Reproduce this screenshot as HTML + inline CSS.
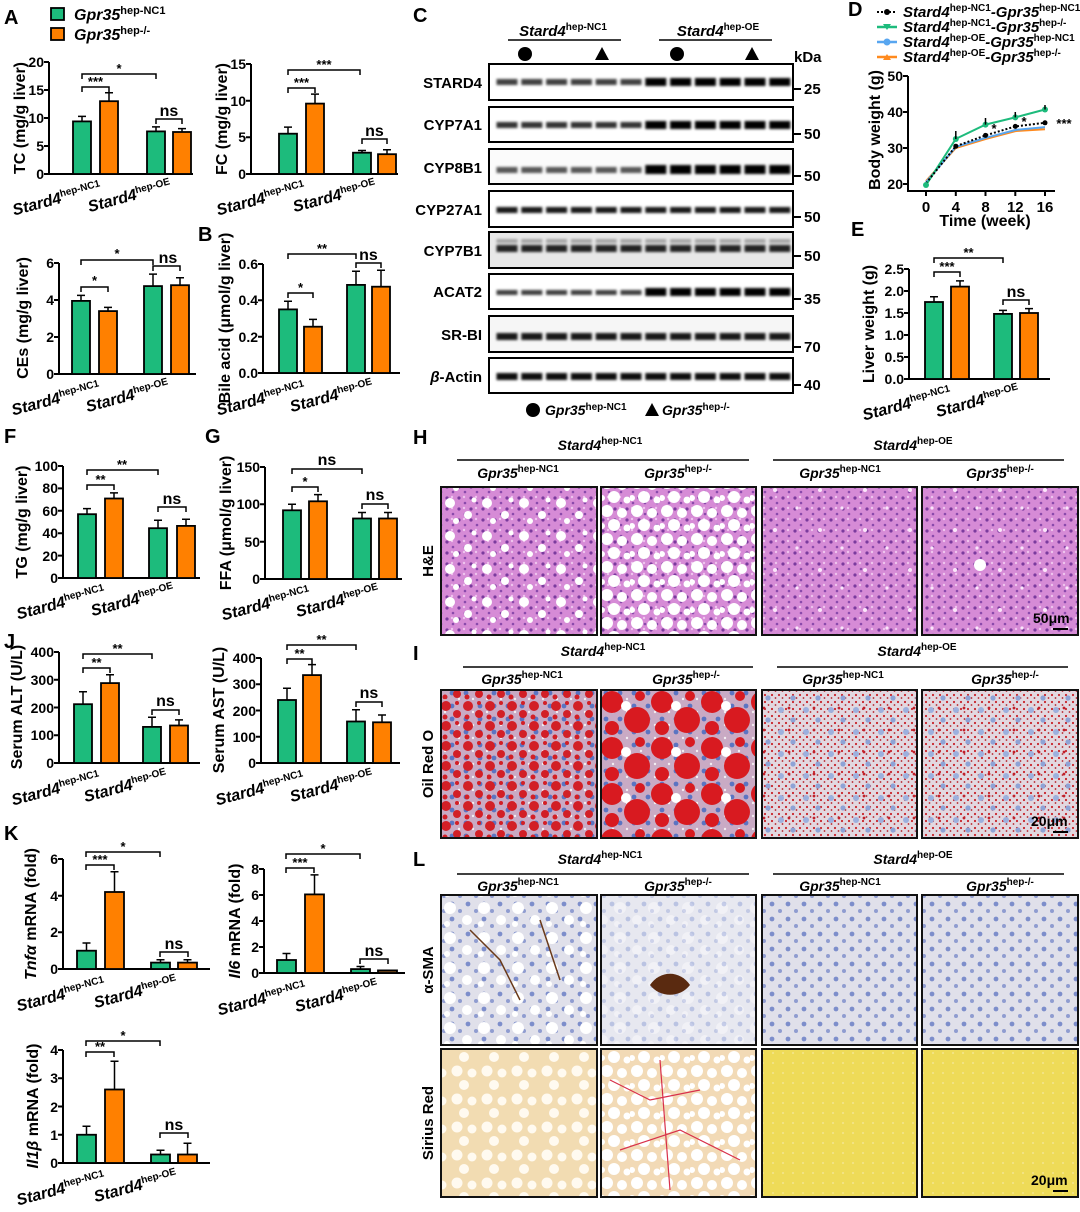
<!DOCTYPE html>
<html><head><meta charset="utf-8"><style>
html,body{margin:0;padding:0;background:#fff}
svg{display:block}
text{font-family:"Liberation Sans",Arial,sans-serif;font-weight:bold;fill:#000}
.tk{font-size:14px;text-anchor:end}
.yl{font-size:16px;text-anchor:middle}
.xl{font-size:16px;font-style:italic;text-anchor:end}
.st{font-size:13px;text-anchor:middle}
.ns{font-size:16px;text-anchor:middle}
.ax{fill:none;stroke:#000;stroke-width:2}
.br{fill:none;stroke:#000;stroke-width:1.5}
.g{fill:#1dbb7c;stroke:#000;stroke-width:1.8}
.o{fill:#ff8000;stroke:#000;stroke-width:1.8}
.pl{font-size:20px}
.hd{font-size:14px;font-style:italic;text-anchor:middle}
.img{fill:none;stroke:#111;stroke-width:2}
</style></head><body>
<svg width="1080" height="1212" viewBox="0 0 1080 1212" xmlns="http://www.w3.org/2000/svg">
<defs>
<pattern id="lane" x="495" y="0" width="24.8" height="1212" patternUnits="userSpaceOnUse"><rect x="1.5" y="0" width="21" height="1212" fill="#000"/></pattern>
<filter id="bl" x="-5%" y="-50%" width="110%" height="200%"><feGaussianBlur stdDeviation="1.3"/></filter>
<pattern id="heB" width="12" height="11" patternUnits="userSpaceOnUse"><rect width="12" height="11" fill="#d68bd6"/><circle cx="3" cy="3" r="1.6" fill="#7b3b9e"/><circle cx="9" cy="8" r="1.3" fill="#8a4aab"/><circle cx="8" cy="2" r="1.2" fill="#efc4ee"/></pattern>
<pattern id="heF1" width="37" height="33" patternUnits="userSpaceOnUse"><g fill="#fff"><circle cx="6" cy="8" r="5"/><circle cx="24" cy="20" r="4"/><circle cx="30" cy="5" r="2.5"/><circle cx="12" cy="26" r="3"/></g></pattern>
<pattern id="heF2" width="30" height="28" patternUnits="userSpaceOnUse"><g fill="#fff"><circle cx="7" cy="7" r="6"/><circle cx="22" cy="9" r="5"/><circle cx="14" cy="21" r="6"/><circle cx="27" cy="24" r="3.5"/><circle cx="2" cy="22" r="3"/></g></pattern>
<pattern id="heS" width="45" height="40" patternUnits="userSpaceOnUse"><g fill="#fbe6fb"><circle cx="10" cy="10" r="2"/><circle cx="32" cy="28" r="1.6"/></g></pattern>
<pattern id="orB" width="14" height="13" patternUnits="userSpaceOnUse"><rect width="14" height="13" fill="#c9aac4"/><circle cx="4" cy="4" r="2.4" fill="#5b74c2"/><circle cx="11" cy="10" r="1.2" fill="#f3eef2"/></pattern>
<pattern id="orR1" width="22" height="20" patternUnits="userSpaceOnUse"><g fill="#d21f26"><circle cx="6" cy="6" r="5"/><circle cx="17" cy="14" r="4"/><circle cx="17" cy="3" r="2"/><circle cx="5" cy="17" r="2.5"/></g></pattern>
<pattern id="orR2" width="50" height="46" patternUnits="userSpaceOnUse"><g fill="#d81a20"><circle cx="12" cy="12" r="11"/><circle cx="37" cy="30" r="13"/><circle cx="12" cy="38" r="7"/><circle cx="40" cy="6" r="5"/></g><circle cx="26" cy="16" r="5" fill="#fff"/></pattern>
<pattern id="orS" width="7" height="7" patternUnits="userSpaceOnUse"><rect width="7" height="7" fill="#e2d8e0"/><circle cx="2" cy="2" r="1.1" fill="#c9232a"/><circle cx="5.5" cy="5" r="0.9" fill="#b52028"/></pattern>
<pattern id="orN" width="25" height="22" patternUnits="userSpaceOnUse"><circle cx="6" cy="6" r="3" fill="#9cb0de"/><circle cx="18" cy="16" r="2.6" fill="#8ea3d6"/><circle cx="14" cy="4" r="1.4" fill="#c0202a"/></pattern>
<pattern id="saB" width="16" height="15" patternUnits="userSpaceOnUse"><rect width="16" height="15" fill="#e0e0ea"/><circle cx="4" cy="4" r="2.4" fill="#7d8ecb"/><circle cx="12" cy="11" r="2" fill="#8f9cd0"/></pattern>
<pattern id="saF" width="34" height="30" patternUnits="userSpaceOnUse"><g fill="#fff"><circle cx="8" cy="8" r="6"/><circle cx="25" cy="20" r="5"/><circle cx="5" cy="24" r="3"/></g></pattern>
<pattern id="siF" width="30" height="28" patternUnits="userSpaceOnUse"><g fill="#fffaf0"><circle cx="7" cy="7" r="5.5"/><circle cx="22" cy="9" r="4.5"/><circle cx="14" cy="21" r="5"/></g></pattern>
<pattern id="siY" width="10" height="10" patternUnits="userSpaceOnUse"><rect width="10" height="10" fill="#eedb58"/><circle cx="3" cy="3" r="1" fill="#f4e690"/></pattern>
</defs>

<!-- Panel letters -->
<text class="pl" x="4" y="24">A</text>
<text class="pl" x="198" y="241">B</text>
<text class="pl" x="413" y="22">C</text>
<text class="pl" x="848" y="16">D</text>
<text class="pl" x="851" y="236">E</text>
<text class="pl" x="4" y="443">F</text>
<text class="pl" x="205" y="443">G</text>
<text class="pl" x="413" y="444">H</text>
<text class="pl" x="413" y="660">I</text>
<text class="pl" x="4" y="648">J</text>
<text class="pl" x="4" y="840">K</text>
<text class="pl" x="413" y="866">L</text>

<!-- Legend A -->
<rect x="51" y="8" width="13" height="12" class="g"/>
<rect x="51" y="28" width="13" height="12" class="o"/>
<text x="74" y="20" style="font-size:16px;font-style:italic">Gpr35<tspan font-size="11" dy="-6" font-style="normal">hep-NC1</tspan></text>
<text x="74" y="40" style="font-size:16px;font-style:italic">Gpr35<tspan font-size="11" dy="-6" font-style="normal">hep-/-</tspan></text>

<!-- TC -->
<path class="ax" d="M49 62V174H193M44 62H49M44 90H49M44 118H49M44 146H49M44 174H49"/>
<text class="tk" x="44" y="67">20</text><text class="tk" x="44" y="95">15</text><text class="tk" x="44" y="123">10</text><text class="tk" x="44" y="151">5</text><text class="tk" x="44" y="179">0</text>
<rect class="g" x="73" y="121.4" width="18" height="52.6"/><rect class="o" x="100" y="101.2" width="18" height="72.8"/><rect class="g" x="147" y="131.4" width="18" height="42.6"/><rect class="o" x="173" y="132" width="18" height="42"/>
<path class="br" d="M82 121V116.4M78 116.4H86M109 101V92.8M105 92.8H113M156 131V126.9M152 126.9H160M182 132V128.6M178 128.6H186"/>
<path class="br" d="M82 92V87H109V92M82 79V74H156V79M156 124V119H182V124"/>
<text class="st" x="95.5" y="86">***</text><text class="st" x="119" y="73">*</text><text class="ns" x="169" y="116">ns</text>
<text class="xl" transform="translate(102,192) rotate(-15)">Stard4<tspan font-size="10" dy="-6" font-style="normal">hep-NC1</tspan></text>
<text class="xl" transform="translate(172,190) rotate(-15)">Stard4<tspan font-size="10" dy="-6" font-style="normal">hep-OE</tspan></text>
<text class="yl" transform="translate(25,118) rotate(-90)">TC (mg/g liver)</text>

<!-- FC -->
<path class="ax" d="M251 64V174H398M246 64H251M246 100.7H251M246 137.3H251M246 174H251"/>
<text class="tk" x="246" y="69">15</text><text class="tk" x="246" y="106">10</text><text class="tk" x="246" y="142">5</text><text class="tk" x="246" y="179">0</text>
<rect class="g" x="279" y="133.7" width="18" height="40.3"/><rect class="o" x="306" y="103.6" width="18" height="70.4"/><rect class="g" x="353" y="152.7" width="18" height="21.3"/><rect class="o" x="378" y="154.2" width="18" height="19.8"/>
<path class="br" d="M288 133V127.1M284 127.1H292M315 103V94.1M311 94.1H319M362 152V150.5M358 150.5H366M387 154V149.8M383 149.8H391"/>
<path class="br" d="M288 93V88H315V93M288 75V70H360V75M362 144V139H387V144"/>
<text class="st" x="301.5" y="87">***</text><text class="st" x="324" y="69">***</text><text class="ns" x="374.5" y="136">ns</text>
<text class="xl" transform="translate(306,192) rotate(-15)">Stard4<tspan font-size="10" dy="-6" font-style="normal">hep-NC1</tspan></text>
<text class="xl" transform="translate(377,190) rotate(-15)">Stard4<tspan font-size="10" dy="-6" font-style="normal">hep-OE</tspan></text>
<text class="yl" transform="translate(227,119) rotate(-90)">FC (mg/g liver)</text>

<!-- CEs -->
<path class="ax" d="M59 263V374H196M54 263H59M54 300H59M54 337H59M54 374H59"/>
<text class="tk" x="54" y="268">6</text><text class="tk" x="54" y="305">4</text><text class="tk" x="54" y="342">2</text><text class="tk" x="54" y="379">0</text>
<rect class="g" x="72" y="300.9" width="18" height="73.1"/><rect class="o" x="99" y="311.1" width="18" height="62.9"/><rect class="g" x="144" y="286.1" width="18" height="87.9"/><rect class="o" x="171" y="285.2" width="18" height="88.8"/>
<path class="br" d="M81 300V295.4M77 295.4H85M108 311V307.4M104 307.4H112M153 286V274.1M149 274.1H157M180 285V277.8M176 277.8H184"/>
<path class="br" d="M81 292V287H108V292M81 265V260H153V265M153 271V266H180V271"/>
<text class="st" x="94.5" y="285">*</text><text class="st" x="117" y="258">*</text><text class="ns" x="168" y="263">ns</text>
<text class="xl" transform="translate(101,392) rotate(-15)">Stard4<tspan font-size="10" dy="-6" font-style="normal">hep-NC1</tspan></text>
<text class="xl" transform="translate(170,390) rotate(-15)">Stard4<tspan font-size="10" dy="-6" font-style="normal">hep-OE</tspan></text>
<text class="yl" transform="translate(28,318) rotate(-90)">CEs (mg/g liver)</text>

<!-- Bile acid -->
<path class="ax" d="M263 264V373H400M258 264H263M258 300.3H263M258 336.7H263M258 373H263"/>
<text class="tk" x="258" y="269">0.6</text><text class="tk" x="258" y="305">0.4</text><text class="tk" x="258" y="342">0.2</text><text class="tk" x="258" y="378">0.0</text>
<rect class="g" x="279" y="309.4" width="18" height="63.6"/><rect class="o" x="304" y="326.7" width="18" height="46.3"/><rect class="g" x="347" y="284.9" width="18" height="88.1"/><rect class="o" x="372" y="286.7" width="18" height="86.3"/>
<path class="br" d="M288 309V301.2M284 301.2H292M313 326V319.4M309 319.4H317M356 284V271.3M352 271.3H360M381 286V270.3M377 270.3H385"/>
<path class="br" d="M288 298V293H313V298M288 259V254H356V259M356 268V263H381V268"/>
<text class="st" x="300.5" y="292">*</text><text class="st" x="322" y="253">**</text><text class="ns" x="368.5" y="260">ns</text>
<text class="xl" transform="translate(306,392) rotate(-15)">Stard4<tspan font-size="10" dy="-6" font-style="normal">hep-NC1</tspan></text>
<text class="xl" transform="translate(374,390) rotate(-15)">Stard4<tspan font-size="10" dy="-6" font-style="normal">hep-OE</tspan></text>
<text class="yl" transform="translate(230,318) rotate(-90)">Bile acid (μmol/g liver)</text>

<!-- TG -->
<path class="ax" d="M63 466V578H200M58 466H63M58 488.4H63M58 510.8H63M58 533.2H63M58 555.6H63M58 578H63"/>
<text class="tk" x="58" y="471">100</text><text class="tk" x="58" y="493">80</text><text class="tk" x="58" y="516">60</text><text class="tk" x="58" y="538">40</text><text class="tk" x="58" y="561">20</text><text class="tk" x="58" y="583">0</text>
<rect class="g" x="78" y="514.2" width="18" height="63.8"/><rect class="o" x="105" y="498.5" width="18" height="79.5"/><rect class="g" x="149" y="528.2" width="18" height="49.8"/><rect class="o" x="177" y="525.9" width="18" height="52.1"/>
<path class="br" d="M87 514V508.6M83 508.6H91M114 498V492.9M110 492.9H118M158 528V520.3M154 520.3H162M186 525V519.2M182 519.2H190"/>
<path class="br" d="M87 490V485H114V490M87 475V470H158V475M158 512V507H186V512"/>
<text class="st" x="100.5" y="484">**</text><text class="st" x="122" y="469">**</text><text class="ns" x="172" y="504">ns</text>
<text class="xl" transform="translate(106,596) rotate(-15)">Stard4<tspan font-size="10" dy="-6" font-style="normal">hep-NC1</tspan></text>
<text class="xl" transform="translate(175,594) rotate(-15)">Stard4<tspan font-size="10" dy="-6" font-style="normal">hep-OE</tspan></text>
<text class="yl" transform="translate(27,522) rotate(-90)">TG (mg/g liver)</text>

<!-- FFA -->
<path class="ax" d="M265 467V579H402M260 467H265M260 504.3H265M260 541.7H265M260 579H265"/>
<text class="tk" x="260" y="472">150</text><text class="tk" x="260" y="509">100</text><text class="tk" x="260" y="547">50</text><text class="tk" x="260" y="584">0</text>
<rect class="g" x="283" y="510.3" width="18" height="68.7"/><rect class="o" x="309" y="501.3" width="18" height="77.7"/><rect class="g" x="353" y="518.5" width="18" height="60.5"/><rect class="o" x="379" y="518.5" width="18" height="60.5"/>
<path class="br" d="M292 510V504.3M288 504.3H296M318 501V494.6M314 494.6H322M362 518V512.5M358 512.5H366M388 518V512.5M384 512.5H392"/>
<path class="br" d="M292 492V487H318V492M292 474V469H362V474M362 509V504H388V509"/>
<text class="st" x="305" y="486">*</text><text class="ns" x="327" y="465">ns</text><text class="ns" x="375" y="500">ns</text>
<text class="xl" transform="translate(311,597) rotate(-15)">Stard4<tspan font-size="10" dy="-6" font-style="normal">hep-NC1</tspan></text>
<text class="xl" transform="translate(380,595) rotate(-15)">Stard4<tspan font-size="10" dy="-6" font-style="normal">hep-OE</tspan></text>
<text class="yl" transform="translate(231,523) rotate(-90)">FFA (μmol/g liver)</text>

<!-- ALT -->
<path class="ax" d="M59 652V763H200M54 652H59M54 679.75H59M54 707.5H59M54 735.25H59M54 763H59"/>
<text class="tk" x="54" y="657">400</text><text class="tk" x="54" y="685">300</text><text class="tk" x="54" y="713">200</text><text class="tk" x="54" y="740">100</text><text class="tk" x="54" y="768">0</text>
<rect class="g" x="74" y="704.2" width="18" height="58.8"/><rect class="o" x="101" y="683.1" width="18" height="79.9"/><rect class="g" x="143" y="726.9" width="18" height="36.1"/><rect class="o" x="170" y="725.5" width="18" height="37.5"/>
<path class="br" d="M83 704V691.7M79 691.7H87M110 683V674.8M106 674.8H114M152 726V717.2M148 717.2H156M179 725V719.9M175 719.9H183"/>
<path class="br" d="M83 673V668H110V673M83 659V654H152V659M152 715V710H179V715"/>
<text class="st" x="96.5" y="667">**</text><text class="st" x="117.5" y="653">**</text><text class="ns" x="165.5" y="706">ns</text>
<text class="xl" transform="translate(101,782) rotate(-15)">Stard4<tspan font-size="10" dy="-6" font-style="normal">hep-NC1</tspan></text>
<text class="xl" transform="translate(168,780) rotate(-15)">Stard4<tspan font-size="10" dy="-6" font-style="normal">hep-OE</tspan></text>
<text class="yl" transform="translate(22,707) rotate(-90)">Serum ALT (U/L)</text>

<!-- AST -->
<path class="ax" d="M261 658V763H400M256 658H261M256 684.25H261M256 710.5H261M256 736.75H261M256 763H261"/>
<text class="tk" x="256" y="663">400</text><text class="tk" x="256" y="689">300</text><text class="tk" x="256" y="716">200</text><text class="tk" x="256" y="742">100</text><text class="tk" x="256" y="768">0</text>
<rect class="g" x="278" y="700" width="18" height="63"/><rect class="o" x="303" y="675.1" width="18" height="87.9"/><rect class="g" x="347" y="721.5" width="18" height="41.5"/><rect class="o" x="373" y="722.3" width="18" height="40.7"/>
<path class="br" d="M287 700V688.2M283 688.2H291M312 675V664.6M308 664.6H316M356 721V709.7M352 709.7H360M382 722V715M378 715H386"/>
<path class="br" d="M287 664V659H312V664M287 650V645H356V650M356 707V702H382V707"/>
<text class="st" x="299.5" y="658">**</text><text class="st" x="321.5" y="644">**</text><text class="ns" x="369" y="698">ns</text>
<text class="xl" transform="translate(305,782) rotate(-15)">Stard4<tspan font-size="10" dy="-6" font-style="normal">hep-NC1</tspan></text>
<text class="xl" transform="translate(374,780) rotate(-15)">Stard4<tspan font-size="10" dy="-6" font-style="normal">hep-OE</tspan></text>
<text class="yl" transform="translate(224,710) rotate(-90)">Serum AST (U/L)</text>

<!-- Tnfa -->
<path class="ax" d="M63 859V969H210M58 859H63M58 895.7H63M58 932.3H63M58 969H63"/>
<text class="tk" x="58" y="864">6</text><text class="tk" x="58" y="901">4</text><text class="tk" x="58" y="937">2</text><text class="tk" x="58" y="974">0</text>
<rect class="g" x="77" y="950.7" width="19" height="18.3"/><rect class="o" x="105" y="892" width="19" height="77"/><rect class="g" x="151" y="962.6" width="19" height="6.4"/><rect class="o" x="178" y="962.6" width="19" height="6.4"/>
<path class="br" d="M86.5 950V943M82.5 943H90.5M114.5 892V871.8M110.5 871.8H118.5M160.5 962V959.8M156.5 959.8H164.5M187.5 962V959.8M183.5 959.8H191.5"/>
<path class="br" d="M86 870V865H114V870M86 857V852H160V857M160 957V952H188V957"/>
<text class="st" x="100" y="864">***</text><text class="st" x="123" y="851">*</text><text class="ns" x="174" y="949">ns</text>
<text class="xl" transform="translate(106,988) rotate(-15)">Stard4<tspan font-size="10" dy="-6" font-style="normal">hep-NC1</tspan></text>
<text class="xl" transform="translate(178,986) rotate(-15)">Stard4<tspan font-size="10" dy="-6" font-style="normal">hep-OE</tspan></text>
<text class="yl" transform="translate(36,914) rotate(-90)"><tspan font-style="italic">Tnfα</tspan> mRNA (fold)</text>

<!-- Il6 -->
<path class="ax" d="M264 869V973H405M259 869H264M259 895H264M259 921H264M259 947H264M259 973H264"/>
<text class="tk" x="259" y="874">8</text><text class="tk" x="259" y="900">6</text><text class="tk" x="259" y="926">4</text><text class="tk" x="259" y="952">2</text><text class="tk" x="259" y="978">0</text>
<rect class="g" x="277" y="960" width="19" height="13"/><rect class="o" x="305" y="894.4" width="19" height="78.6"/><rect class="g" x="351" y="969.1" width="19" height="3.9"/><rect class="o" x="378" y="970.4" width="19" height="2.6" style="fill:#8a5520"/>
<path class="br" d="M286.5 960V953.5M282.5 953.5H290.5M314.5 894V874.9M310.5 874.9H318.5M360.5 969V966.5M356.5 966.5H364.5"/>
<path class="br" d="M286 873V868H314V873M286 859V854H360V859M360 964V959H388V964"/>
<text class="st" x="300" y="867">***</text><text class="st" x="323" y="853">*</text><text class="ns" x="374" y="956">ns</text>
<text class="xl" transform="translate(307,992) rotate(-15)">Stard4<tspan font-size="10" dy="-6" font-style="normal">hep-NC1</tspan></text>
<text class="xl" transform="translate(379,990) rotate(-15)">Stard4<tspan font-size="10" dy="-6" font-style="normal">hep-OE</tspan></text>
<text class="yl" transform="translate(240,921) rotate(-90)"><tspan font-style="italic">Il6</tspan> mRNA (fold)</text>

<!-- Il1b -->
<path class="ax" d="M63 1050V1163H210M58 1050H63M58 1078.25H63M58 1106.5H63M58 1134.75H63M58 1163H63"/>
<text class="tk" x="58" y="1055">4</text><text class="tk" x="58" y="1083">3</text><text class="tk" x="58" y="1112">2</text><text class="tk" x="58" y="1140">1</text><text class="tk" x="58" y="1168">0</text>
<rect class="g" x="77" y="1134.75" width="19" height="28.25"/><rect class="o" x="105" y="1089.5" width="19" height="73.5"/><rect class="g" x="151" y="1154.5" width="19" height="8.5"/><rect class="o" x="178" y="1154.5" width="19" height="8.5"/>
<path class="br" d="M86.5 1134V1126.3M82.5 1126.3H90.5M114.5 1089V1061.3M110.5 1061.3H118.5M160.5 1154V1150.3M156.5 1150.3H164.5M187.5 1154V1143.2M183.5 1143.2H191.5"/>
<path class="br" d="M86 1057V1052H114V1057M86 1046V1041H160V1046M160 1138V1133H188V1138"/>
<text class="st" x="100" y="1051">**</text><text class="st" x="123" y="1040">*</text><text class="ns" x="174" y="1130">ns</text>
<text class="xl" transform="translate(106,1182) rotate(-15)">Stard4<tspan font-size="10" dy="-6" font-style="normal">hep-NC1</tspan></text>
<text class="xl" transform="translate(178,1180) rotate(-15)">Stard4<tspan font-size="10" dy="-6" font-style="normal">hep-OE</tspan></text>
<text class="yl" transform="translate(38,1106) rotate(-90)"><tspan font-style="italic">Il1β</tspan> mRNA (fold)</text>

<!-- E Liver weight -->
<path class="ax" d="M909 269V379H1050M904 269H909M904 291H909M904 313H909M904 335H909M904 357H909M904 379H909"/>
<text class="tk" x="904" y="274">2.5</text><text class="tk" x="904" y="296">2.0</text><text class="tk" x="904" y="318">1.5</text><text class="tk" x="904" y="340">1.0</text><text class="tk" x="904" y="362">0.5</text><text class="tk" x="904" y="384">0.0</text>
<rect class="g" x="925" y="302" width="18" height="77"/><rect class="o" x="951" y="286.6" width="18" height="92.4"/><rect class="g" x="994" y="313.9" width="18" height="65.1"/><rect class="o" x="1020" y="313" width="18" height="66"/>
<path class="br" d="M934 302V296.7M930 296.7H938M960 286V280.9M956 280.9H964M1003 313V310.4M999 310.4H1007M1029 313V308.6M1025 308.6H1033"/>
<path class="br" d="M934 277V272H960V277M934 263V258H1003V263M1003 305V300H1029V305"/>
<text class="st" x="947" y="271">***</text><text class="st" x="968.5" y="257">**</text><text class="ns" x="1016" y="297">ns</text>
<text class="xl" transform="translate(952,397) rotate(-15)">Stard4<tspan font-size="10" dy="-6" font-style="normal">hep-NC1</tspan></text>
<text class="xl" transform="translate(1020,395) rotate(-15)">Stard4<tspan font-size="10" dy="-6" font-style="normal">hep-OE</tspan></text>
<text class="yl" transform="translate(874,324) rotate(-90)">Liver weight (g)</text>

<!-- D line chart -->
<g style="font-size:14px;font-style:italic">
<path d="M877 12H897" stroke="#000" stroke-width="2" stroke-dasharray="2 2"/><circle cx="887" cy="12" r="3"/>
<text x="903" y="17" style="font-size:15px">Stard4<tspan font-size="10" dy="-6" font-style="normal">hep-NC1</tspan><tspan dy="6">-Gpr35</tspan><tspan font-size="10" dy="-6" font-style="normal">hep-NC1</tspan></text>
<path d="M877 27H897" stroke="#1dbb7c" stroke-width="2.5"/><path d="M883 24H891L887 30Z" fill="#1dbb7c"/>
<text x="903" y="32" style="font-size:15px">Stard4<tspan font-size="10" dy="-6" font-style="normal">hep-NC1</tspan><tspan dy="6">-Gpr35</tspan><tspan font-size="10" dy="-6" font-style="normal">hep-/-</tspan></text>
<path d="M877 42H897" stroke="#58a6f0" stroke-width="2.5"/><circle cx="887" cy="42" r="3.5" fill="#58a6f0"/>
<text x="903" y="47" style="font-size:15px">Stard4<tspan font-size="10" dy="-6" font-style="normal">hep-OE</tspan><tspan dy="6">-Gpr35</tspan><tspan font-size="10" dy="-6" font-style="normal">hep-NC1</tspan></text>
<path d="M877 57H897" stroke="#ff8a1e" stroke-width="2.5"/><path d="M883 60H891L887 54Z" fill="#ff8a1e"/>
<text x="903" y="62" style="font-size:15px">Stard4<tspan font-size="10" dy="-6" font-style="normal">hep-OE</tspan><tspan dy="6">-Gpr35</tspan><tspan font-size="10" dy="-6" font-style="normal">hep-/-</tspan></text>
</g>
<path class="ax" d="M908 76V191H1055M903 76H908M903 112H908M903 148H908M903 184H908M926 191V196M955.8 191V196M985.5 191V196M1015.3 191V196M1045 191V196"/>
<text class="tk" x="903" y="81">50</text><text class="tk" x="903" y="117">40</text><text class="tk" x="903" y="153">30</text><text class="tk" x="903" y="189">20</text>
<g style="font-size:15px;text-anchor:middle"><text x="926" y="212">0</text><text x="955.8" y="212">4</text><text x="985.5" y="212">8</text><text x="1015.3" y="212">12</text><text x="1045" y="212">16</text></g>
<text class="yl" x="985" y="226">Time (week)</text>
<text class="yl" transform="translate(880,130) rotate(-90)">Body weight (g)</text>
<polyline points="926,181.1 955.8,148 985.5,139 1015.3,131.1 1045,129.3" fill="none" stroke="#ff8a1e" stroke-width="2"/>
<polyline points="926,182.2 955.8,146.9 985.5,137.9 1015.3,130 1045,127.1" fill="none" stroke="#58a6f0" stroke-width="2"/>
<polyline points="926,185.1 955.8,138.9 985.5,124.6 1015.3,117.4 1045,109.5" fill="none" stroke="#1dbb7c" stroke-width="2"/>
<polyline points="926,183.3 955.8,146.2 985.5,135.4 1015.3,126.4 1045,122.8" fill="none" stroke="#000" stroke-width="2" stroke-dasharray="2 2"/>
<g fill="#1dbb7c"><circle cx="926" cy="185" r="3"/><circle cx="955.8" cy="139" r="3"/><circle cx="985.5" cy="124.6" r="3"/><circle cx="1015.3" cy="117.4" r="3"/><circle cx="1045" cy="109.5" r="3"/></g>
<g fill="#000"><circle cx="955.8" cy="146.2" r="2.5"/><circle cx="985.5" cy="135.4" r="2.5"/><circle cx="1015.3" cy="126.4" r="2.5"/><circle cx="1045" cy="122.8" r="2.5"/></g>
<path class="br" d="M955.8 139V131M985.5 124.6V118M1015.3 117.4V112M1045 109.5V105"/>
<text class="st" x="994" y="133">*</text><text class="st" x="1024" y="126">*</text><text class="st" x="1064" y="128">***</text>

<!-- C Western blot -->
<text class="hd" x="563" y="36" style="font-size:15px">Stard4<tspan font-size="10" dy="-6" font-style="normal">hep-NC1</tspan></text>
<text class="hd" x="718" y="36" style="font-size:15px">Stard4<tspan font-size="10" dy="-6" font-style="normal">hep-OE</tspan></text>
<path d="M508 40H621M659 40H772" stroke="#000" stroke-width="1.5"/>
<circle cx="525" cy="54" r="7"/><path d="M602 47L609 60H595Z"/><circle cx="677" cy="54" r="7"/><path d="M752 47L759 60H745Z"/>
<text x="794" y="62" style="font-size:15px">kDa</text>
<g>
<rect x="489" y="64" width="304" height="36" fill="#fff"/>
<rect x="489" y="107" width="304" height="35" fill="#fff"/>
<rect x="489" y="149" width="304" height="35" fill="#fbfbfb"/>
<rect x="489" y="191" width="304" height="36" fill="#fff"/>
<rect x="489" y="232" width="304" height="36" fill="#e8e8e8"/>
<rect x="489" y="274" width="304" height="35" fill="#fff"/>
<rect x="489" y="316" width="304" height="36" fill="#f6f6f6"/>
<rect x="489" y="358" width="304" height="35" fill="#fff"/>
<g filter="url(#bl)" fill="url(#lane)">
<rect x="495" y="79" width="149" height="6" opacity="0.75"/><rect x="644" y="78" width="149" height="8"/>
<rect x="495" y="122" width="149" height="6" opacity="0.8"/><rect x="644" y="121" width="149" height="8"/>
<rect x="495" y="167" width="149" height="6" opacity="0.65"/><rect x="644" y="165" width="149" height="9"/>
<rect x="495" y="207" width="298" height="6" opacity="0.9"/>
<rect x="495" y="245" width="298" height="7" opacity="0.85"/>
<rect x="495" y="239" width="298" height="4" opacity="0.3"/>
<rect x="495" y="290" width="149" height="5" opacity="0.75"/><rect x="644" y="288" width="149" height="8"/>
<rect x="495" y="333" width="298" height="7" opacity="0.9"/>
<rect x="495" y="373" width="298" height="7" opacity="0.95"/>
</g>
<g fill="none" stroke="#000" stroke-width="2">
<rect x="489" y="64" width="304" height="36"/><rect x="489" y="107" width="304" height="35"/><rect x="489" y="149" width="304" height="35"/><rect x="489" y="191" width="304" height="36"/><rect x="489" y="232" width="304" height="36"/><rect x="489" y="274" width="304" height="35"/><rect x="489" y="316" width="304" height="36"/><rect x="489" y="358" width="304" height="35"/>
<path d="M793 89H801M793 134H801M793 176H801M793 217H801M793 256H801M793 299H801M793 347H801M793 385H801"/>
</g>
</g>
<g style="font-size:15px;text-anchor:end">
<text x="482" y="88">STARD4</text><text x="482" y="130">CYP7A1</text><text x="482" y="173">CYP8B1</text><text x="482" y="215">CYP27A1</text><text x="482" y="256">CYP7B1</text><text x="482" y="297">ACAT2</text><text x="482" y="340">SR-BI</text><text x="482" y="382"><tspan font-style="italic">β</tspan>-Actin</text>
</g>
<g style="font-size:15px"><text x="804" y="94">25</text><text x="804" y="139">50</text><text x="804" y="181">50</text><text x="804" y="222">50</text><text x="804" y="261">50</text><text x="804" y="304">35</text><text x="804" y="352">70</text><text x="804" y="390">40</text></g>
<circle cx="533" cy="410" r="7"/>
<text x="545" y="415" style="font-size:14px;font-style:italic">Gpr35<tspan font-size="10" dy="-5" font-style="normal">hep-NC1</tspan></text>
<path d="M652 403L659 416H645Z"/>
<text x="662" y="415" style="font-size:14px;font-style:italic">Gpr35<tspan font-size="10" dy="-5" font-style="normal">hep-/-</tspan></text>

<!-- H headers -->
<g>
<text class="hd" x="600" y="450">Stard4<tspan font-size="10" dy="-6" font-style="normal">hep-NC1</tspan></text>
<text class="hd" x="913" y="450">Stard4<tspan font-size="10" dy="-6" font-style="normal">hep-OE</tspan></text>
<path d="M457 460H749M773 460H1064" stroke="#000" stroke-width="1.5"/>
<text class="hd" x="518" y="478">Gpr35<tspan font-size="10" dy="-6" font-style="normal">hep-NC1</tspan></text>
<text class="hd" x="678" y="478">Gpr35<tspan font-size="10" dy="-6" font-style="normal">hep-/-</tspan></text>
<text class="hd" x="840" y="478">Gpr35<tspan font-size="10" dy="-6" font-style="normal">hep-NC1</tspan></text>
<text class="hd" x="1000" y="478">Gpr35<tspan font-size="10" dy="-6" font-style="normal">hep-/-</tspan></text>
</g>
<rect x="441" y="487" width="156" height="148" fill="url(#heB)"/><rect x="441" y="487" width="156" height="148" fill="url(#heF1)"/>
<rect x="601" y="487" width="155" height="148" fill="url(#heB)"/><rect x="601" y="487" width="155" height="148" fill="url(#heF2)"/>
<rect x="762" y="487" width="155" height="148" fill="url(#heB)"/><rect x="762" y="487" width="155" height="148" fill="url(#heS)"/>
<rect x="922" y="487" width="156" height="148" fill="url(#heB)"/><rect x="922" y="487" width="156" height="148" fill="url(#heS)"/><circle cx="980" cy="565" r="6" fill="#fff"/>
<g class="img"><rect x="441" y="487" width="156" height="148"/><rect x="601" y="487" width="155" height="148"/><rect x="762" y="487" width="155" height="148"/><rect x="922" y="487" width="156" height="148"/></g>
<text x="1033" y="623" style="font-size:14px">50μm</text><path d="M1053 629H1068" stroke="#000" stroke-width="2"/>
<text class="yl" transform="translate(433,561) rotate(-90)" style="font-size:15px">H&amp;E</text>

<!-- I headers -->
<text class="hd" x="603" y="656">Stard4<tspan font-size="10" dy="-6" font-style="normal">hep-NC1</tspan></text>
<text class="hd" x="917" y="656">Stard4<tspan font-size="10" dy="-6" font-style="normal">hep-OE</tspan></text>
<path d="M463 667H753M777 667H1068" stroke="#000" stroke-width="1.5"/>
<text class="hd" x="522" y="684">Gpr35<tspan font-size="10" dy="-6" font-style="normal">hep-NC1</tspan></text>
<text class="hd" x="686" y="684">Gpr35<tspan font-size="10" dy="-6" font-style="normal">hep-/-</tspan></text>
<text class="hd" x="843" y="684">Gpr35<tspan font-size="10" dy="-6" font-style="normal">hep-NC1</tspan></text>
<text class="hd" x="1005" y="684">Gpr35<tspan font-size="10" dy="-6" font-style="normal">hep-/-</tspan></text>
<rect x="441" y="690" width="156" height="148" fill="url(#orB)"/><rect x="441" y="690" width="156" height="148" fill="url(#orR1)"/>
<rect x="601" y="690" width="155" height="148" fill="url(#orB)"/><rect x="601" y="690" width="155" height="148" fill="url(#orR2)"/>
<rect x="762" y="690" width="155" height="148" fill="url(#orS)"/><rect x="762" y="690" width="155" height="148" fill="url(#orN)"/>
<rect x="922" y="690" width="156" height="148" fill="url(#orS)"/><rect x="922" y="690" width="156" height="148" fill="url(#orN)"/>
<g class="img"><rect x="441" y="690" width="156" height="148"/><rect x="601" y="690" width="155" height="148"/><rect x="762" y="690" width="155" height="148"/><rect x="922" y="690" width="156" height="148"/></g>
<text x="1031" y="826" style="font-size:14px">20μm</text><path d="M1053 832H1068" stroke="#000" stroke-width="2"/>
<text class="yl" transform="translate(433,764) rotate(-90)" style="font-size:15px">Oil Red O</text>

<!-- L headers -->
<text class="hd" x="600" y="864">Stard4<tspan font-size="10" dy="-6" font-style="normal">hep-NC1</tspan></text>
<text class="hd" x="913" y="864">Stard4<tspan font-size="10" dy="-6" font-style="normal">hep-OE</tspan></text>
<path d="M457 874H749M773 874H1064" stroke="#000" stroke-width="1.5"/>
<text class="hd" x="518" y="891">Gpr35<tspan font-size="10" dy="-6" font-style="normal">hep-NC1</tspan></text>
<text class="hd" x="678" y="891">Gpr35<tspan font-size="10" dy="-6" font-style="normal">hep-/-</tspan></text>
<text class="hd" x="840" y="891">Gpr35<tspan font-size="10" dy="-6" font-style="normal">hep-NC1</tspan></text>
<text class="hd" x="1000" y="891">Gpr35<tspan font-size="10" dy="-6" font-style="normal">hep-/-</tspan></text>
<rect x="441" y="895" width="156" height="150" fill="url(#saB)"/><rect x="441" y="895" width="156" height="150" fill="url(#saF)"/>
<path d="M470 930L500 960L520 1000M540 920L560 980" stroke="#6a3a1a" stroke-width="1.5" fill="none"/>
<rect x="601" y="895" width="155" height="150" fill="#eceef4"/><rect x="601" y="895" width="155" height="150" fill="url(#saF)"/><rect x="601" y="895" width="155" height="150" fill="url(#saB)" opacity="0.45"/>
<path d="M650 985C660 970 680 970 690 985C680 998 660 998 650 985Z" fill="#5a2a10"/>
<rect x="762" y="895" width="155" height="150" fill="url(#saB)"/>
<rect x="922" y="895" width="156" height="150" fill="url(#saB)"/>
<rect x="441" y="1049" width="156" height="148" fill="#f2dcb2"/><rect x="441" y="1049" width="156" height="148" fill="url(#siF)"/>
<rect x="601" y="1049" width="155" height="148" fill="#f2dab6"/><rect x="601" y="1049" width="155" height="148" fill="url(#heF2)"/>
<path d="M610 1080L650 1100L700 1090M620 1150L680 1130L740 1160M660 1060L670 1190" stroke="#d8304a" stroke-width="1.2" fill="none"/>
<rect x="762" y="1049" width="155" height="148" fill="url(#siY)"/>
<rect x="922" y="1049" width="156" height="148" fill="url(#siY)"/>
<g class="img"><rect x="441" y="895" width="156" height="150"/><rect x="601" y="895" width="155" height="150"/><rect x="762" y="895" width="155" height="150"/><rect x="922" y="895" width="156" height="150"/>
<rect x="441" y="1049" width="156" height="148"/><rect x="601" y="1049" width="155" height="148"/><rect x="762" y="1049" width="155" height="148"/><rect x="922" y="1049" width="156" height="148"/></g>
<text x="1031" y="1185" style="font-size:14px">20μm</text><path d="M1053 1191H1068" stroke="#000" stroke-width="2"/>
<text class="yl" transform="translate(433,970) rotate(-90)" style="font-size:15px">α-SMA</text>
<text class="yl" transform="translate(433,1123) rotate(-90)" style="font-size:15px">Sirius Red</text>
</svg>
</body></html>
